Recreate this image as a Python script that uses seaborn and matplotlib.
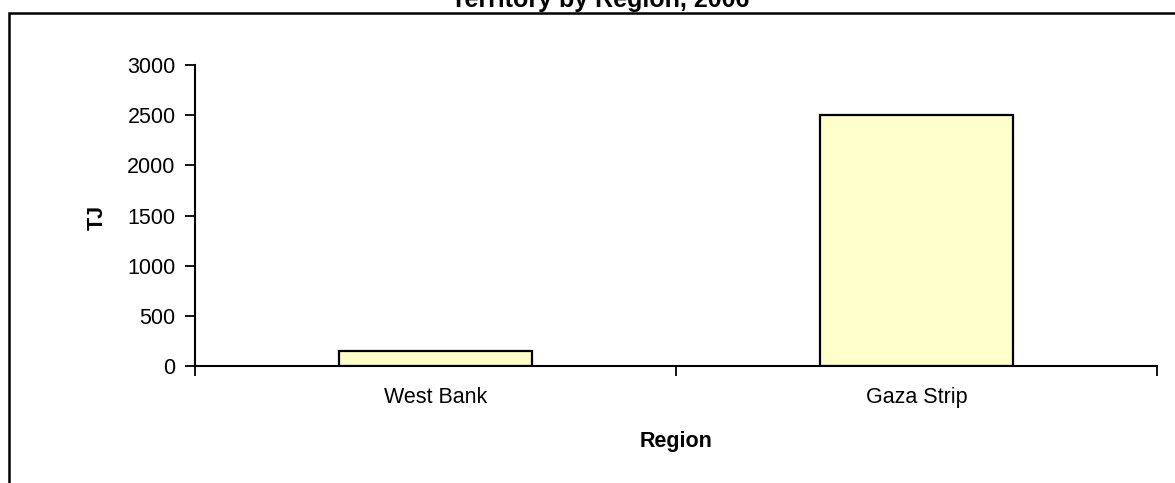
import matplotlib
matplotlib.use("Agg")
import matplotlib.pyplot as plt
import seaborn as sns
import pandas as pd
from matplotlib.patches import Rectangle
from matplotlib.ticker import FixedLocator

regions = ["West Bank", "Gaza Strip"]
tj_values = [150, 2500]
y_ticks = [0, 500, 1000, 1500, 2000, 2500, 3000]

sns.set_style("white")
plt.rcParams["font.family"] = ["Liberation Sans", "DejaVu Sans"]
plt.rcParams["text.color"] = "black"
plt.rcParams["xtick.color"] = "black"
plt.rcParams["ytick.color"] = "black"

df = pd.DataFrame({"Region": regions, "TJ": tj_values})

fig = plt.figure(figsize=(11.75, 4.83), dpi=100)
ax = fig.add_axes([195 / 1175, 1 - 366 / 483, (1157 - 195) / 1175, (366 - 65) / 483])

sns.barplot(data=df, x="Region", y="TJ", ax=ax, width=0.4, color="#FFFFCC",
            edgecolor="black", linewidth=1.6, saturation=1)

tick_fs = 15.5
ax.set_xlim(-0.5, 1.5)
ax.set_ylim(0, 3000)
ax.set_yticks(y_ticks)
ax.set_yticklabels([str(v) for v in y_ticks], fontsize=tick_fs)

# Tick marks sit on category boundaries, labels at category centres
ax.xaxis.set_major_locator(FixedLocator([-0.5, 0.5, 1.5]))
ax.set_xticklabels([])
ax.set_xticks([0, 1], minor=True)
ax.set_xticklabels(regions, minor=True, fontsize=tick_fs)
ax.tick_params(axis="x", which="major", direction="out", length=7, width=1.3, bottom=True)
ax.tick_params(axis="x", which="minor", length=0, pad=15)
ax.tick_params(axis="y", direction="out", length=7, width=1.3, left=True, pad=7)

for side in ["top", "right"]:
    ax.spines[side].set_visible(False)
for side in ["left", "bottom"]:
    ax.spines[side].set_color("black")
    ax.spines[side].set_linewidth(1.5)

ax.set_xlabel("")
ax.set_ylabel("")
fig.text(676 / 1175, 1 - 441 / 483, "Region", ha="center", va="center",
         fontsize=15.5, fontweight="bold")
fig.text(97 / 1175, 1 - 217 / 483, "TJ", ha="center", va="center",
         fontsize=15.5, fontweight="bold", rotation=90)

fig.text(600 / 1175, 1 - 7 / 483, "Territory by Region, 2006", ha="center",
         va="baseline", fontsize=18, fontweight="bold")

# Chart frame
fig.patches.append(Rectangle((8.5 / 1175, -0.1), 1.2, 1 - 13.5 / 483 + 0.1,
                             transform=fig.transFigure, fill=False,
                             edgecolor="black", linewidth=1.8))

fig.savefig("out.png", dpi=100)
